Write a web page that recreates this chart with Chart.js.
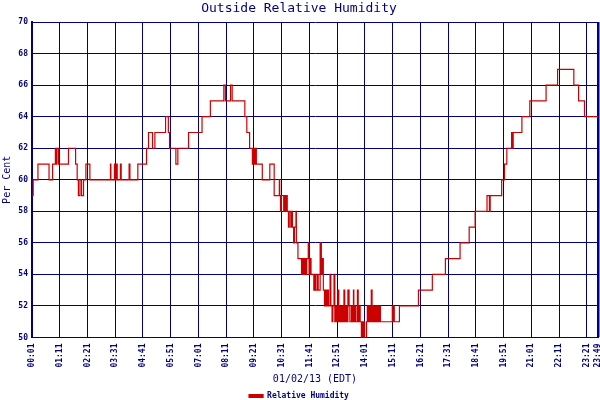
<!DOCTYPE html>
<html>
<head>
<meta charset="utf-8">
<title>Outside Relative Humidity</title>
<script src="https://cdn.jsdelivr.net/npm/chart.js@4/dist/chart.umd.min.js"></script>
<style>
  html, body { margin: 0; padding: 0; background: #fff; }
  #wrap { width: 600px; height: 400px; }
</style>
</head>
<body>
<div id="wrap"><canvas id="rhChart" width="600" height="400"></canvas></div>
<script>
// x axis tick labels (time of day)
const tickLabels = ['00:01','01:11','02:21','03:31','04:41','05:51','07:01','08:11','09:21','10:31',
    '11:41','12:51','14:01','15:11','16:21','17:31','18:41','19:51','21:01','22:11','23:21','23:49'];

// minute of day where the reading changes, and the new reading (%)
const minutes = [
    1, 4, 16, 44, 53, 60, 63, 64, 68, 93,
    111, 115, 118, 122, 126, 131, 137, 147, 199, 200,
    209, 211, 214, 216, 224, 226, 246, 248, 268, 290,
    295, 305, 311, 338, 345, 348, 364, 369, 396, 430,
    451, 485, 489, 502, 506, 538, 543, 550, 557, 559,
    562, 564, 567, 582, 601, 612, 625, 626, 628, 630,
    636, 638, 641, 643, 645, 648, 650, 654, 656, 658,
    661, 663, 667, 668, 672, 681, 684, 686, 688, 691,
    694, 698, 700, 703, 705, 712, 715, 717, 721, 723,
    728, 731, 733, 736, 739, 742, 744, 747, 749, 753,
    755, 758, 760, 763, 765, 768, 771, 773, 775, 778,
    781, 783, 786, 788, 790, 793, 796, 798, 801, 803,
    807, 809, 812, 813, 816, 818, 822, 824, 827, 829,
    832, 834, 835, 838, 840, 845, 847, 849, 852, 854,
    857, 859, 861, 864, 866, 869, 872, 874, 877, 880,
    910, 911, 913, 915, 928, 976, 1011, 1044, 1081, 1104,
    1119, 1149, 1155, 1157, 1186, 1193, 1199, 1211, 1213, 1215,
    1237, 1257, 1298, 1327, 1368, 1380, 1395, 1429
];
const humidity = [
    59, 60, 61, 60, 61, 62, 61, 62, 61, 62,
    61, 60, 59, 60, 59, 60, 61, 60, 61, 60,
    61, 60, 61, 60, 61, 60, 61, 60, 61, 62,
    63, 62, 63, 64, 63, 62, 61, 62, 63, 64,
    65, 66, 65, 66, 65, 64, 63, 62, 61, 62,
    61, 62, 61, 60, 61, 59, 60, 59, 58, 59,
    58, 59, 58, 59, 58, 57, 58, 57, 58, 57,
    56, 57, 58, 56, 55, 54, 55, 54, 55, 54,
    55, 56, 54, 55, 54, 53, 54, 53, 54, 53,
    56, 54, 55, 53, 52, 53, 52, 53, 52, 54,
    52, 51, 52, 54, 51, 52, 51, 53, 51, 52,
    51, 52, 51, 53, 51, 52, 51, 53, 52, 51,
    52, 51, 53, 51, 52, 51, 53, 51, 52, 51,
    50, 51, 50, 51, 50, 51, 52, 51, 52, 51,
    53, 51, 52, 51, 52, 51, 52, 51, 52, 51,
    52, 51, 52, 51, 52, 53, 54, 55, 56, 57,
    58, 59, 58, 59, 60, 61, 62, 63, 62, 63,
    64, 65, 66, 67, 66, 65, 64, 64
];

const NAVY = '#000080';
const MONO = "'DejaVu Sans Mono', 'Liberation Mono', monospace";

function toMinute(label) {
    const parts = label.split(':');
    return parseInt(parts[0], 10) * 60 + parseInt(parts[1], 10);
}

function fmtMinute(v) {
    const i = tickLabels.findIndex(l => toMinute(l) === v);
    return i >= 0 ? tickLabels[i] : '';
}

const tickMinutes = tickLabels.map(toMinute);
const firstMin = tickMinutes[0];
const lastMin = tickMinutes[tickMinutes.length - 1];

const points = minutes.map((m, i) => ({ x: m, y: humidity[i] }));

new Chart(document.getElementById('rhChart').getContext('2d'), {
    type: 'line',
    data: {
        datasets: [{
            label: 'Relative Humidity',
            data: points,
            borderColor: '#cc0000',
            backgroundColor: '#cc0000',
            borderWidth: 1.2,
            pointRadius: 0,
            stepped: true,
            fill: false
        }]
    },
    options: {
        responsive: false,
        animation: false,
        devicePixelRatio: 1,
        // bottom padding is negative so the legend sits close to the edge
        layout: { padding: { left: 0, right: 2, top: 0, bottom: -10 } },
        plugins: {
            title: {
                display: true,
                text: 'Outside Relative Humidity',
                color: NAVY,
                font: { family: MONO, size: 13, weight: 'normal' },
                padding: { top: 1, bottom: 5.5 }
            },
            legend: {
                position: 'bottom',
                labels: {
                    color: NAVY,
                    boxWidth: 14,
                    boxHeight: 3,
                    padding: 2,
                    font: { family: MONO, size: 8, weight: 'bold' }
                }
            },
            tooltip: { enabled: false }
        },
        scales: {
            x: {
                type: 'linear',
                min: firstMin,
                max: lastMin,
                afterBuildTicks: (scale) => { scale.ticks = tickMinutes.map(v => ({ value: v })); },
                afterFit: (scale) => {
                    scale.height = 52.5;
                    scale.paddingLeft = 0;
                    scale.paddingRight = 0;
                },
                ticks: {
                    color: NAVY,
                    autoSkip: false,
                    minRotation: 90,
                    maxRotation: 90,
                    padding: 6,
                    font: { family: MONO, size: 8, weight: 'bold' },
                    callback: (v) => fmtMinute(v)
                },
                grid: {
                    color: NAVY,
                    drawTicks: false,
                    lineWidth: (ctx) => (ctx.tick && ctx.tick.value === lastMin) ? 2.5 : 1
                },
                border: { color: NAVY, width: 1 },
                title: {
                    display: true,
                    text: '01/02/13 (EDT)',
                    color: NAVY,
                    font: { family: MONO, size: 10 },
                    padding: { top: 0, bottom: 4.5 }
                }
            },
            y: {
                min: 50,
                max: 70,
                afterFit: (scale) => { scale.width = 32; },
                ticks: {
                    stepSize: 2,
                    color: NAVY,
                    padding: 4,
                    font: { family: MONO, size: 8, weight: 'bold' }
                },
                grid: { color: NAVY, drawTicks: false, lineWidth: 1 },
                border: { color: NAVY, width: 2 },
                title: {
                    display: true,
                    text: 'Per Cent',
                    color: NAVY,
                    font: { family: MONO, size: 10 },
                    padding: { top: 1, bottom: 0 }
                }
            }
        }
    }
});
</script>
</body>
</html>
